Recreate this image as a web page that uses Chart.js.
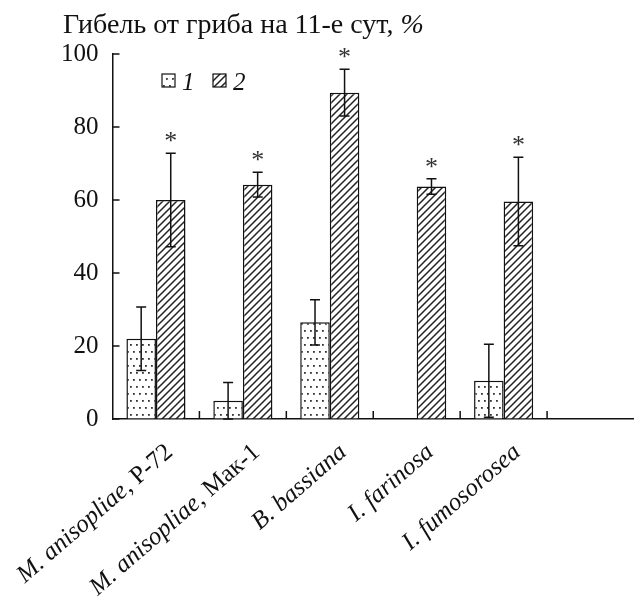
<!DOCTYPE html>
<html>
<head>
<meta charset="utf-8">
<script src="https://cdn.jsdelivr.net/npm/chart.js@4.4.0/dist/chart.umd.min.js"></script>
<style>
    html, body { margin: 0; padding: 0; background: #fff; overflow: hidden; }
    canvas { display: block; }
</style>
</head>
<body>
<canvas id="chart" width="634" height="608"></canvas>
<script>
// Data (mortality on day 11, %)
const labelItalic = ['M. anisopliae', 'M. anisopliae', 'B. bassiana', 'I. farinosa', 'I. fumosorosea', ''];
const labelPlain = [', Р-72', ', Мак-1', '', '', '', ''];
const categories = labelItalic.map((t, i) => t + labelPlain[i]);

const series1 = [22, 5, 26.5, null, 10.5, null];
const errors1 = [8.7, 5, 6.2, null, 10, null];
const series2 = [60, 64.2, 89.4, 63.7, 59.6, null];
const errors2 = [12.8, 3.4, 6.4, 2.1, 12.1, null];
const significant = [true, true, true, true, true, false];
const yTicks = [0, 20, 40, 60, 80, 100];
const seriesNames = ['1', '2'];
const titleMain = 'Гибель от гриба на 11-е сут, ';
const titleUnit = '%';

const FONT = "'Liberation Serif', 'Times New Roman', serif";
const INK = '#111';

// dotted fill for series 1
function makeDots() {
    const c = document.createElement('canvas');
    c.width = 12; c.height = 14;
    const g = c.getContext('2d');
    g.fillStyle = '#fff';
    g.fillRect(0, 0, 12, 14);
    g.fillStyle = '#333';
    [[1, 1], [7, 1], [4, 8], [10, 8]].forEach(p => g.fillRect(p[0], p[1], 1.8, 1.8));
    return g.createPattern(c, 'repeat');
}

// diagonal hatch for series 2
function makeHatch() {
    const s = 7;
    const c = document.createElement('canvas');
    c.width = s; c.height = s;
    const g = c.getContext('2d');
    g.fillStyle = '#fff';
    g.fillRect(0, 0, s, s);
    g.strokeStyle = '#222';
    g.lineWidth = 1.5;
    g.beginPath();
    g.moveTo(-1, s + 1); g.lineTo(s + 1, -1);
    g.moveTo(-1, 1); g.lineTo(1, -1);
    g.moveTo(s - 1, s + 1); g.lineTo(s + 1, s - 1);
    g.stroke();
    return g.createPattern(c, 'repeat');
}

const dots = makeDots();
const hatch = makeHatch();

const extras = {
    id: 'extras',
    afterDatasetsDraw(chart) {
        const { ctx } = chart;
        const y = chart.scales.y;
        const errs = [errors1, errors2];
        ctx.save();
        ctx.strokeStyle = INK;
        ctx.lineWidth = 1.5;
        chart.data.datasets.forEach((ds, di) => {
            chart.getDatasetMeta(di).data.forEach((bar, i) => {
                const v = ds.data[i];
                const e = errs[di][i];
                if (v == null || e == null) return;
                const top = y.getPixelForValue(v + e);
                const bot = y.getPixelForValue(Math.max(v - e, 0));
                ctx.beginPath();
                ctx.moveTo(bar.x, top); ctx.lineTo(bar.x, bot);
                ctx.moveTo(bar.x - 5, top); ctx.lineTo(bar.x + 5, top);
                ctx.moveTo(bar.x - 5, bot); ctx.lineTo(bar.x + 5, bot);
                ctx.stroke();
                if (di === 1 && significant[i]) {
                    ctx.fillStyle = '#333';
                    ctx.font = '26px ' + FONT;
                    ctx.textAlign = 'center';
                    ctx.textBaseline = 'alphabetic';
                    ctx.fillText('*', bar.x, top - 4);
                }
            });
        });
        ctx.restore();
    },
    afterDraw(chart) {
        const { ctx, chartArea } = chart;
        const x = chart.scales.x;
        const y = chart.scales.y;
        ctx.save();
        ctx.strokeStyle = INK;
        ctx.lineWidth = 1.5;
        ctx.beginPath();
        yTicks.forEach(v => {
            const py = y.getPixelForValue(v);
            ctx.moveTo(chartArea.left, py); ctx.lineTo(chartArea.left + 7, py);
        });
        for (let i = 0; i < categories.length - 1; i++) {
            const px = x.getPixelForValue(i + 0.5);
            ctx.moveTo(px, chartArea.bottom); ctx.lineTo(px, chartArea.bottom - 8);
        }
        ctx.stroke();

        // title
        ctx.fillStyle = INK;
        ctx.textAlign = 'left';
        ctx.textBaseline = 'alphabetic';
        ctx.font = '28px ' + FONT;
        ctx.fillText(titleMain, 63, 33);
        const w = ctx.measureText(titleMain).width;
        ctx.font = 'italic 28px ' + FONT;
        ctx.fillText(titleUnit, 63 + w, 33);

        // legend
        const boxes = [dots, hatch];
        const lx = [162, 213];
        seriesNames.forEach((name, i) => {
            ctx.fillStyle = boxes[i];
            ctx.fillRect(lx[i], 74, 13, 13);
            ctx.lineWidth = 1.2;
            ctx.strokeRect(lx[i], 74, 13, 13);
            ctx.fillStyle = INK;
            ctx.font = 'italic 25px ' + FONT;
            ctx.fillText(name, lx[i] + 20, 90);
        });

        // rotated category labels
        const ang = -41 * Math.PI / 180;
        categories.forEach((lab, i) => {
            if (!lab) return;
            const cx = x.getPixelForValue(i);
            ctx.save();
            ctx.translate(cx + 18, chartArea.bottom + 35);
            ctx.rotate(ang);
            ctx.textAlign = 'left';
            ctx.font = '25px ' + FONT;
            const wp = ctx.measureText(labelPlain[i]).width;
            ctx.font = 'italic 25px ' + FONT;
            const wi = ctx.measureText(labelItalic[i]).width;
            ctx.fillText(labelItalic[i], -wi - wp, 0);
            ctx.font = '25px ' + FONT;
            ctx.fillText(labelPlain[i], -wp, 0);
            ctx.restore();
        });
        ctx.restore();
    }
};

new Chart(document.getElementById('chart'), {
    type: 'bar',
    data: {
        labels: categories,
        datasets: [{
            label: seriesNames[0],
            data: series1,
            backgroundColor: dots,
            borderColor: INK,
            borderWidth: 1.5,
            categoryPercentage: 0.68,
            barPercentage: 1
        }, {
            label: seriesNames[1],
            data: series2,
            backgroundColor: hatch,
            borderColor: INK,
            borderWidth: 1.5,
            categoryPercentage: 0.68,
            barPercentage: 1
        }]
    },
    options: {
        responsive: false,
        animation: false,
        layout: { padding: { top: 54, left: 47, right: 0, bottom: 189 } },
        plugins: {
            legend: { display: false },
            tooltip: { enabled: false }
        },
        scales: {
            x: {
                grid: { drawOnChartArea: false, drawTicks: false },
                border: { color: INK, width: 1.5 },
                ticks: { display: false }
            },
            y: {
                min: 0,
                max: 100,
                afterBuildTicks: axis => { axis.ticks = yTicks.map(v => ({ value: v })); },
                grid: { drawOnChartArea: false, drawTicks: false },
                border: { color: INK, width: 1.5 },
                ticks: { color: INK, padding: 14, font: { family: FONT, size: 25 } }
            }
        }
    },
    plugins: [extras]
});
</script>
</body>
</html>
